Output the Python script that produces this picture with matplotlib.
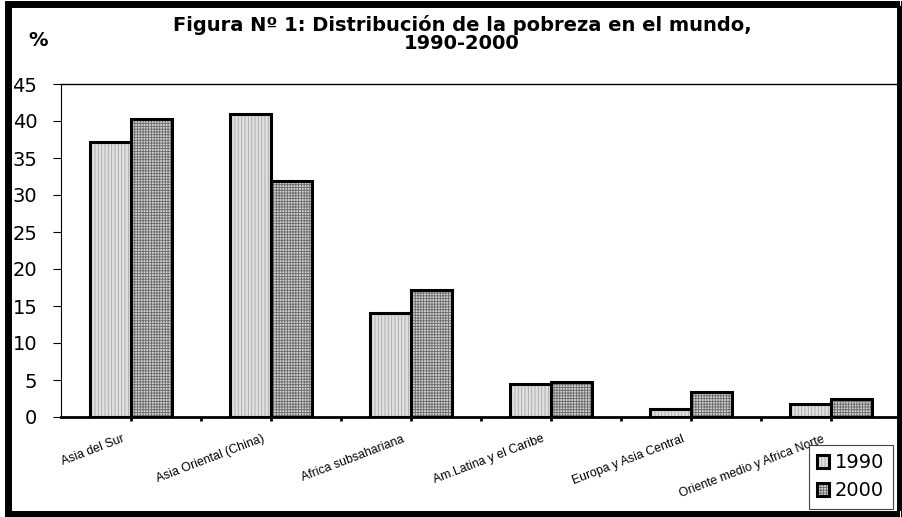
import matplotlib
matplotlib.use("Agg")
import matplotlib.pyplot as plt
from matplotlib.patches import Rectangle, Patch
from matplotlib.legend_handler import HandlerTuple
import numpy as np

# Data
regions = ["Asia del Sur", "Asia Oriental (China)", "Africa subsahariana",
           "Am.Latina y el Caribe", "Europa y Asia Central",
           "Oriente medio y Africa Norte"]
pct_1990 = [37.2, 41.0, 14.1, 4.4, 1.1, 1.8]
pct_2000 = [40.3, 31.9, 17.1, 4.7, 3.4, 2.4]
years = ["1990", "2000"]
yticks = [0, 5, 10, 15, 20, 25, 30, 35, 40, 45]

plt.rcParams["hatch.linewidth"] = 0.6

fig = plt.figure(figsize=(9.03, 5.17), dpi=100)
ax = fig.add_axes([61 / 903, 1 - 417 / 517, 840 / 903, 333 / 517])

x = np.arange(len(regions))
w = 0.293

# style per series: face, hatch, hatch colour
styles = [("#e0e0e0", "|||||", "#a8a8a8"), ("#d0d0d0", "++++++", "#6a6a6a")]
handles = []
for k, (vals, off) in enumerate([(pct_1990, -w / 2), (pct_2000, w / 2)]):
    face, hatch, hcol = styles[k]
    ax.bar(x + off, vals, w, color=face, hatch=hatch, edgecolor=hcol,
           linewidth=0, zorder=2)
    ax.bar(x + off, vals, w, fill=False, edgecolor="black",
           linewidth=2.2, zorder=3)
    hp = Patch(facecolor=face, hatch=hatch, edgecolor=hcol, linewidth=0)
    ep = Patch(fill=False, edgecolor="black", linewidth=2.2)
    handles.append((hp, ep))

ax.set_xlim(-0.5, len(regions) - 0.5)
ax.set_ylim(0, 45)
ax.set_yticks(yticks)
ax.set_yticklabels([str(v) for v in yticks], fontsize=14,
                   family="DejaVu Sans")
ax.tick_params(axis="y", direction="out", length=6, width=0.8, pad=11)

ax.set_xticks(np.arange(-0.5, len(regions), 0.5)[1:])
ax.set_xticklabels([])
ax.tick_params(axis="x", direction="out", length=3, width=2)

ax.spines["right"].set_visible(False)
ax.spines["top"].set_linewidth(1.0)
ax.spines["left"].set_linewidth(0.8)
ax.spines["bottom"].set_linewidth(2)

for i, name in enumerate(regions):
    ax.annotate(name, xy=(i, 0), xytext=(-9, -16), textcoords="offset pixels",
                rotation=21, rotation_mode="anchor", ha="right", va="top",
                fontsize=8.8, family="Liberation Sans")

fig.text(462 / 903, 1 - 15 / 517,
         "Figura Nº 1: Distribución de la pobreza en el mundo,\n1990-2000",
         ha="center", va="top", ma="center", linespacing=0.95,
         fontsize=14, fontweight="bold", family="DejaVu Sans")
fig.text(38 / 903, 1 - 40 / 517, "%", ha="center", va="center",
         fontsize=14, fontweight="bold", family="DejaVu Sans")

leg = fig.legend(handles, years, loc="lower right",
                 bbox_to_anchor=(893 / 903, 1 - 509 / 517),
                 handler_map={tuple: HandlerTuple(ndivide=1)},
                 prop={"family": "DejaVu Sans", "size": 14},
                 fancybox=False, framealpha=1, edgecolor="#444444",
                 handlelength=0.6, handleheight=0.6, handletextpad=0.3,
                 labelspacing=0.45, borderpad=0.45, borderaxespad=0)
leg.get_frame().set_linewidth(0.8)

# outer frame of the figure
fig.patches.append(Rectangle((7.5 / 903, 3.5 / 517), 893 / 903, 510 / 517,
                             transform=fig.transFigure, fill=False,
                             edgecolor="black", linewidth=5, zorder=10))
fig.patches.append(Rectangle((900 / 903, 0), 1.5 / 903, 1,
                             transform=fig.transFigure, facecolor="white",
                             edgecolor="none", zorder=11))
fig.patches.append(Rectangle((900.5 / 903, 6 / 517), 0, 505 / 517,
                             transform=fig.transFigure, fill=False,
                             edgecolor="black", linewidth=1.5, zorder=12))

fig.savefig("out.png", dpi=100)
